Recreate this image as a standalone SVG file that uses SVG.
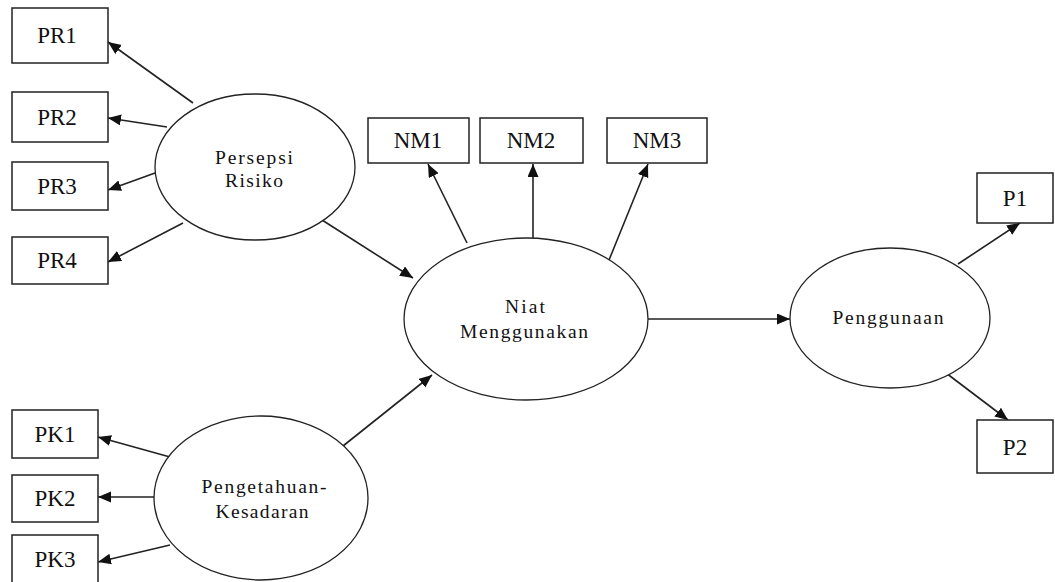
<svg xmlns="http://www.w3.org/2000/svg" width="1055" height="582" viewBox="0 0 1055 582">
<style>
.box{fill:#fff;stroke:#222;stroke-width:1.5}
.ell{fill:#fff;stroke:#222;stroke-width:1.3}
.bl{font-family:"Liberation Serif","Times New Roman",serif;font-size:23px;fill:#111;text-anchor:middle}
.el{font-family:"Liberation Serif","Times New Roman",serif;font-size:19.5px;fill:#111;text-anchor:middle}
.c line{stroke:#222;stroke-width:1.6;marker-end:url(#ah)}
</style>
<defs>
<marker id="ah" markerUnits="userSpaceOnUse" markerWidth="14" markerHeight="12" refX="13" refY="5.5" orient="auto">
<path d="M0,0 L13,5.5 L0,11 z" fill="#111"/>
</marker>
</defs>
<rect width="1055" height="582" fill="#fff"/>
<g id="connectors" class="c">
<line x1="193" y1="103" x2="108" y2="42"/>
<line x1="167" y1="127" x2="108" y2="118"/>
<line x1="155" y1="173" x2="108" y2="190"/>
<line x1="183" y1="223" x2="108" y2="262"/>
<line x1="322" y1="220" x2="413" y2="278"/>
<line x1="170" y1="457" x2="98" y2="437"/>
<line x1="155" y1="497" x2="98" y2="497"/>
<line x1="170" y1="545" x2="98" y2="562"/>
<line x1="343" y1="446" x2="432" y2="375"/>
<line x1="467" y1="243" x2="428" y2="164"/>
<line x1="533" y1="238" x2="533" y2="164"/>
<line x1="607" y1="265" x2="648" y2="164"/>
<line x1="648" y1="319" x2="790" y2="319"/>
<line x1="958" y1="264" x2="1020" y2="223"/>
<line x1="946" y1="373" x2="1008" y2="420"/>
</g>
<g id="PR1"><rect class="box" x="12" y="8" width="96" height="55"/><text class="bl" x="57" y="43">PR1</text></g>
<g id="PR2"><rect class="box" x="12" y="92" width="96" height="50"/><text class="bl" x="57" y="125">PR2</text></g>
<g id="PR3"><rect class="box" x="12" y="162" width="96" height="48"/><text class="bl" x="57" y="194">PR3</text></g>
<g id="PR4"><rect class="box" x="12" y="237" width="96" height="47"/><text class="bl" x="57" y="268">PR4</text></g>
<g id="PK1"><rect class="box" x="12" y="410" width="86" height="48"/><text class="bl" x="55" y="442">PK1</text></g>
<g id="PK2"><rect class="box" x="12" y="475" width="86" height="47"/><text class="bl" x="55" y="506">PK2</text></g>
<g id="PK3"><rect class="box" x="12" y="535" width="86" height="48"/><text class="bl" x="55" y="567">PK3</text></g>
<g id="NM1"><rect class="box" x="368" y="118" width="101" height="45"/><text class="bl" x="418" y="148">NM1</text></g>
<g id="NM2"><rect class="box" x="480" y="118" width="103" height="45"/><text class="bl" x="531" y="148">NM2</text></g>
<g id="NM3"><rect class="box" x="607" y="118" width="100" height="45"/><text class="bl" x="657" y="148">NM3</text></g>
<g id="P1"><rect class="box" x="977" y="173" width="76" height="50"/><text class="bl" x="1015" y="206">P1</text></g>
<g id="P2"><rect class="box" x="977" y="420" width="76" height="53"/><text class="bl" x="1015" y="455">P2</text></g>
<g id="PersepsiRisiko"><ellipse class="ell" cx="255" cy="167" rx="100" ry="73"/>
<text class="el" x="254" y="164" textLength="78" lengthAdjust="spacing">Persepsi</text>
<text class="el" x="254" y="187" textLength="58" lengthAdjust="spacing">Risiko</text></g>
<g id="PengetahuanKesadaran"><ellipse class="ell" cx="261" cy="498" rx="107" ry="82"/>
<text class="el" x="264" y="493" textLength="125" lengthAdjust="spacing">Pengetahuan-</text>
<text class="el" x="262" y="518" textLength="93" lengthAdjust="spacing">Kesadaran</text></g>
<g id="NiatMenggunakan"><ellipse class="ell" cx="526" cy="319" rx="122" ry="81"/>
<text class="el" x="525" y="313" textLength="40" lengthAdjust="spacing">Niat</text>
<text class="el" x="524" y="338" textLength="128" lengthAdjust="spacing">Menggunakan</text></g>
<g id="Penggunaan"><ellipse class="ell" cx="890" cy="318" rx="100" ry="70"/>
<text class="el" x="888" y="324" textLength="111" lengthAdjust="spacing">Penggunaan</text></g>
</svg>
